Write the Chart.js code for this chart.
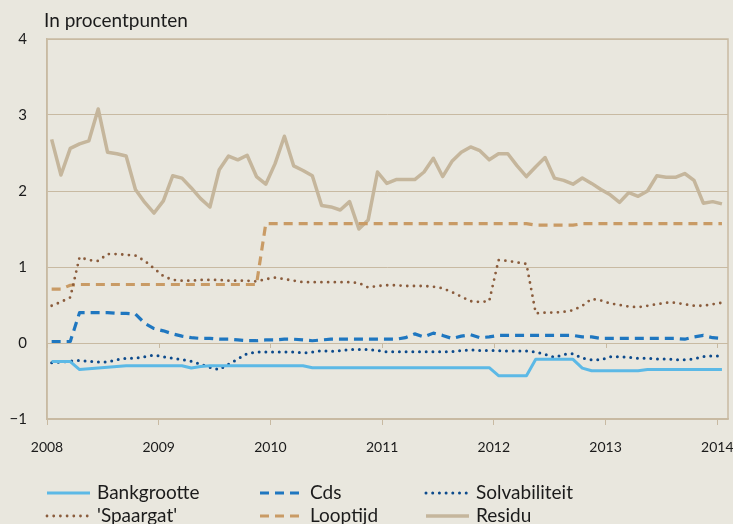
<!DOCTYPE html>
<html>
<head>
<meta charset="utf-8">
<script src="https://cdn.jsdelivr.net/npm/chart.js@4.4.0/dist/chart.umd.min.js"></script>
<style>
  html, body { margin: 0; padding: 0; background: #e9e7de; }
  #wrap { width: 733px; height: 524px; position: relative; }
</style>
</head>
<body>
<div id="wrap"><canvas id="c" width="733" height="524"></canvas></div>
<script>
/* values per month, Jan 2008 .. Jan 2014 (73 months) */
const yearLabels = ['2008', '2009', '2010', '2011', '2012', '2013', '2014'];
const yLabels = ['−1', '0', '1', '2', '3', '4'];

const bankgrootte = [-0.245,-0.245,-0.245,-0.35,-0.34,-0.33,-0.32,-0.31,-0.30,-0.30,
  -0.30,-0.30,-0.30,-0.30,-0.30,-0.33,-0.31,-0.30,-0.30,-0.30,
  -0.30,-0.30,-0.30,-0.30,-0.30,-0.30,-0.30,-0.30,-0.325,-0.325,
  -0.325,-0.325,-0.325,-0.325,-0.325,-0.325,-0.325,-0.325,-0.325,-0.325,
  -0.325,-0.325,-0.325,-0.325,-0.325,-0.325,-0.325,-0.325,-0.43,-0.43,
  -0.43,-0.43,-0.215,-0.215,-0.215,-0.215,-0.215,-0.33,-0.365,-0.365,
  -0.365,-0.365,-0.365,-0.365,-0.35,-0.35,-0.35,-0.35,-0.35,-0.35,
  -0.35,-0.35,-0.35];

const cds = [0.02,0.02,0.02,0.40,0.40,0.40,0.40,0.39,0.39,0.38,
  0.26,0.19,0.16,0.12,0.09,0.07,0.06,0.06,0.05,0.05,
  0.04,0.03,0.03,0.04,0.04,0.05,0.05,0.04,0.03,0.04,
  0.05,0.05,0.05,0.05,0.05,0.05,0.05,0.05,0.07,0.12,
  0.08,0.13,0.10,0.06,0.09,0.11,0.07,0.08,0.10,0.10,
  0.10,0.10,0.10,0.10,0.10,0.10,0.10,0.08,0.08,0.06,
  0.06,0.06,0.06,0.06,0.06,0.06,0.06,0.06,0.05,0.08,
  0.10,0.07,0.06];

const solvabiliteit = [-0.26,-0.25,-0.24,-0.23,-0.24,-0.25,-0.25,-0.22,-0.20,-0.20,
  -0.18,-0.16,-0.18,-0.20,-0.22,-0.24,-0.28,-0.32,-0.35,-0.28,
  -0.21,-0.14,-0.12,-0.12,-0.12,-0.12,-0.12,-0.13,-0.12,-0.10,
  -0.11,-0.10,-0.085,-0.085,-0.085,-0.10,-0.115,-0.115,-0.115,-0.115,
  -0.115,-0.115,-0.115,-0.115,-0.10,-0.09,-0.10,-0.10,-0.10,-0.105,
  -0.105,-0.105,-0.12,-0.15,-0.19,-0.15,-0.14,-0.20,-0.22,-0.22,
  -0.18,-0.18,-0.19,-0.20,-0.20,-0.21,-0.21,-0.22,-0.22,-0.21,
  -0.18,-0.17,-0.17];

const spaargat = [0.49,0.54,0.60,1.13,1.09,1.08,1.17,1.17,1.16,1.15,
  1.08,0.98,0.88,0.83,0.82,0.82,0.83,0.83,0.83,0.82,
  0.82,0.82,0.81,0.84,0.86,0.84,0.82,0.80,0.80,0.80,
  0.80,0.80,0.80,0.79,0.73,0.75,0.76,0.76,0.75,0.75,
  0.75,0.74,0.72,0.67,0.61,0.55,0.54,0.55,1.09,1.08,
  1.06,1.04,0.39,0.40,0.40,0.41,0.43,0.49,0.58,0.56,
  0.52,0.50,0.48,0.47,0.49,0.51,0.53,0.53,0.51,0.49,
  0.49,0.51,0.53];

const looptijd = [0.71,0.71,0.76,0.77,0.77,0.77,0.77,0.77,0.77,0.77,
  0.77,0.77,0.77,0.77,0.77,0.77,0.77,0.77,0.77,0.77,
  0.77,0.77,0.77,1.57,1.57,1.57,1.57,1.57,1.57,1.57,
  1.57,1.57,1.57,1.57,1.57,1.57,1.57,1.57,1.57,1.57,
  1.57,1.57,1.57,1.57,1.57,1.57,1.57,1.57,1.57,1.57,
  1.57,1.57,1.55,1.55,1.55,1.55,1.55,1.57,1.57,1.57,
  1.57,1.57,1.57,1.57,1.57,1.57,1.57,1.57,1.57,1.57,
  1.57,1.57,1.57];

const residu = [2.68,2.21,2.56,2.62,2.66,3.08,2.51,2.49,2.46,2.02,
  1.85,1.71,1.87,2.20,2.17,2.04,1.90,1.79,2.28,2.46,
  2.41,2.47,2.19,2.09,2.36,2.72,2.33,2.27,2.20,1.81,
  1.79,1.75,1.86,1.50,1.62,2.25,2.10,2.15,2.15,2.15,
  2.25,2.43,2.19,2.39,2.51,2.58,2.53,2.41,2.49,2.49,
  2.33,2.19,2.32,2.44,2.17,2.14,2.09,2.17,2.10,2.02,
  1.95,1.85,1.98,1.93,2.00,2.20,2.18,2.18,2.23,2.14,
  1.84,1.86,1.83];

const TAN = '#c8baa2';
const TEXT = '#1b1b1b';
const FONT = 'Lato, "Open Sans", sans-serif';

// points sit mid-month on a month axis
function pts(arr){ return arr.map((v,i) => ({ x: i + 0.5, y: v })); }

const datasets = [
  { label: 'Bankgrootte', data: pts(bankgrootte), borderColor: '#5cb9e6', borderWidth: 3 },
  { label: 'Cds', data: pts(cds), borderColor: '#1f77c0', borderWidth: 3.2, borderDash: [9, 6] },
  { label: 'Solvabiliteit', data: pts(solvabiliteit), borderColor: '#0c4a8c', borderWidth: 3, borderDash: [0, 6.7], borderCapStyle: 'round' },
  { label: "'Spaargat'", data: pts(spaargat), borderColor: '#8a5c3c', borderWidth: 2.8, borderDash: [0, 6.7], borderCapStyle: 'round' },
  { label: 'Looptijd', data: pts(looptijd), borderColor: '#c99b65', borderWidth: 3.2, borderDash: [9, 6] },
  { label: 'Residu', data: pts(residu), borderColor: '#c5b69c', borderWidth: 3.5 }
].map(d => Object.assign({ pointRadius: 0, tension: 0, fill: false, borderJoinStyle: 'round' }, d));

/* ---------- background, frame, title and legend ---------- */
const decor = {
  id: 'decor',
  beforeDraw(chart){
    const ctx = chart.ctx;
    ctx.save();
    ctx.fillStyle = '#e9e7de';
    ctx.fillRect(0, 0, chart.width, chart.height);
    ctx.restore();
  },
  beforeDatasetsDraw(chart){
    const { ctx, chartArea: a, scales } = chart;
    ctx.save();
    ctx.strokeStyle = TAN;
    ctx.lineWidth = 1.5;
    ctx.strokeRect(a.left, a.top, a.right - a.left, a.bottom - a.top);
    // small year ticks under the zero line
    const y0 = scales.y.getPixelForValue(0);
    ctx.lineWidth = 1;
    yearLabels.forEach((_, k) => {
      const x = Math.round(scales.x.getPixelForValue(k * 12)) + 0.5;
      ctx.beginPath(); ctx.moveTo(x, y0); ctx.lineTo(x, y0 + 5); ctx.stroke();
    });
    ctx.restore();
  },
  afterDraw(chart){
    const ctx = chart.ctx;
    ctx.save();
    ctx.fillStyle = TEXT;
    ctx.font = '19px ' + FONT;
    ctx.textBaseline = 'middle';
    ctx.fillText('In procentpunten', 44, 21);

    const cols = [47, 260, 426], rows = [493, 516];
    chart.data.datasets.forEach((ds, i) => {
      const x = cols[i % 3], y = rows[Math.floor(i / 3)];
      ctx.save();
      ctx.strokeStyle = ds.borderColor;
      ctx.lineWidth = ds.borderWidth;
      ctx.setLineDash(ds.borderDash || []);
      ctx.lineCap = ds.borderCapStyle || 'butt';
      ctx.beginPath(); ctx.moveTo(x, y); ctx.lineTo(x + 43, y); ctx.stroke();
      ctx.restore();
      ctx.font = '19px ' + FONT;
      ctx.fillStyle = TEXT;
      ctx.fillText(ds.label, x + 50, y);
    });
    ctx.restore();
  }
};

new Chart(document.getElementById('c'), {
  type: 'line',
  data: { datasets },
  options: {
    responsive: false,
    animation: false,
    layout: { padding: { top: 39, right: 5, left: 0, bottom: 0 } },
    plugins: { legend: { display: false }, tooltip: { enabled: false } },
    scales: {
      x: {
        type: 'linear', min: 0, max: 73.15,
        afterBuildTicks: s => { s.ticks = yearLabels.map((_, k) => ({ value: k * 12 })); },
        // fixed height; let the 2014 label run to the edge like the original
        afterFit: s => { s.height = 105; s.paddingLeft = 0; s.paddingRight = 0; },
        ticks: {
          autoSkip: false, maxRotation: 0, padding: 14, color: TEXT,
          font: { family: FONT, size: 14 },
          callback: (v, i) => yearLabels[i]
        },
        grid: { drawOnChartArea: false, drawTicks: true, tickLength: 6, color: TAN },
        border: { display: true, color: TAN, width: 1.5 }
      },
      y: {
        min: -1, max: 4,
        afterFit: s => { s.width = 47; },
        ticks: {
          stepSize: 1, padding: 20, color: TEXT,
          font: { family: FONT, size: 15 },
          callback: (v, i) => yLabels[i]
        },
        grid: { color: TAN, lineWidth: 1, drawTicks: false },
        border: { display: true, color: TAN, width: 1.5 }
      }
    }
  },
  plugins: [decor]
});
</script>
</body>
</html>
